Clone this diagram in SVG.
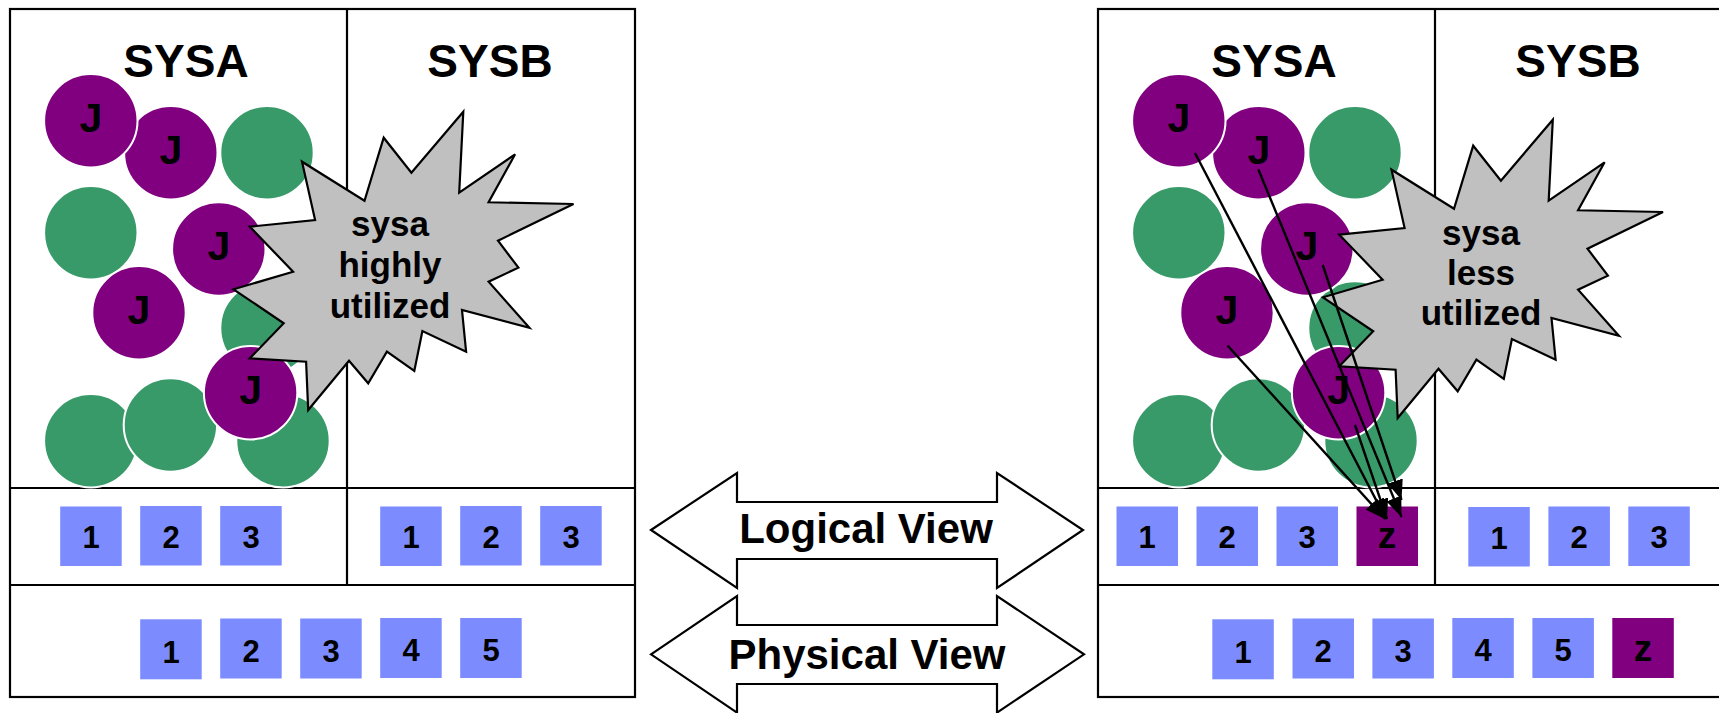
<svg xmlns="http://www.w3.org/2000/svg" width="1719" height="713" viewBox="0 0 1719 713">
<style>
.frame{fill:none;stroke:#000;stroke-width:2.2}
.ln{stroke:#000;stroke-width:2.2}
.j{fill:#800080;stroke:#fff;stroke-width:2}
.g{fill:#399a69;stroke:#fff;stroke-width:2}
.sq{fill:#7c8cff}
.zq{fill:#800080}
.star{fill:#c0c0c0;stroke:#000;stroke-width:2.2;stroke-linejoin:miter}
.arr{fill:#fff;stroke:#000;stroke-width:2.2}
text{font-family:"Liberation Sans",Arial,sans-serif;font-weight:bold;fill:#000;text-anchor:middle}
.title{font-size:46px}
.jt{font-size:41px}
.num{font-size:31px}
.zt{font-size:37px}
.bt{font-size:35px}
.vt{font-size:42px}
.conn{stroke:#000;stroke-width:2.4;fill:none;marker-end:url(#ah)}
</style>
<defs>
<marker id="ah" markerUnits="userSpaceOnUse" markerWidth="22" markerHeight="16" refX="20" refY="8" orient="auto">
<path d="M0,0 L20,8 L0,16 z" fill="#000"/>
</marker>
</defs>
<rect width="1719" height="713" fill="#fff"/>

<!-- LEFT PANEL -->
<g id="left-panel">
<rect x="10" y="9" width="625" height="688" class="frame"/>
<line x1="10" y1="488" x2="635" y2="488" class="ln"/>
<line x1="10" y1="585" x2="635" y2="585" class="ln"/>
<line x1="347" y1="9" x2="347" y2="585" class="ln"/>
<text x="186" y="77" class="title">SYSA</text>
<text x="490" y="77" class="title">SYSB</text>
</g>
<g id="left-jobs">
<circle cx="267" cy="152.7" r="46.7" class="g"/>
<circle cx="90.8" cy="232.7" r="46.7" class="g"/>
<circle cx="267" cy="328" r="46.7" class="g"/>
<circle cx="90.8" cy="440.7" r="46.7" class="g"/>
<circle cx="283" cy="440.7" r="46.7" class="g"/>
<circle cx="170.4" cy="425" r="46.7" class="g"/>
<g id="lj2"><circle cx="170.8" cy="152.7" r="46.7" class="j"/><text x="170.8" y="163.5" class="jt">J</text></g>
<g id="lj1"><circle cx="90.8" cy="120.7" r="46.7" class="j"/><text x="90.8" y="131.5" class="jt">J</text></g>
<g id="lj5"><circle cx="218.8" cy="249" r="46.7" class="j"/><text x="218.8" y="259.8" class="jt">J</text></g>
<g id="lj6"><circle cx="139" cy="312.7" r="46.7" class="j"/><text x="139" y="323.5" class="jt">J</text></g>
<g id="lj11"><circle cx="250.6" cy="392.7" r="46.7" class="j"/><text x="250.6" y="403.5" class="jt">J</text></g>
</g>
<g id="left-star">
<polygon class="star" points="463.3,111.7 459.2,192.7 515.1,154.3 488.6,202.3 573.5,204 498,240.7 518.4,267.7 488.6,281.7 529.4,327.7 462,310 466.1,351.7 422.4,331 414.3,371 386.9,351.7 368.2,383.3 349,360.7 308.2,410 306.1,361.7 249.8,358.3 283.7,323.3 233.5,289.3 293.1,271.7 249.8,226.7 315.1,220 302,161.7 364.5,200.7 383.7,137.7 411.4,172.7"/>
<text x="390" y="236" class="bt">sysa</text>
<text x="390" y="277" class="bt">highly</text>
<text x="390" y="318" class="bt">utilized</text>
</g>
<g id="left-logical">
<g><rect x="60.2" y="506.5" width="61.5" height="59.5" class="sq"/><text x="91" y="548" class="num">1</text></g>
<g><rect x="140.2" y="506" width="61.5" height="59.5" class="sq"/><text x="171" y="547.5" class="num">2</text></g>
<g><rect x="220.2" y="506" width="61.5" height="59.5" class="sq"/><text x="251" y="547.5" class="num">3</text></g>
<g><rect x="380.2" y="506.5" width="61.5" height="59.5" class="sq"/><text x="411" y="548" class="num">1</text></g>
<g><rect x="460.2" y="506" width="61.5" height="59.5" class="sq"/><text x="491" y="547.5" class="num">2</text></g>
<g><rect x="540.2" y="506" width="61.5" height="59.5" class="sq"/><text x="571" y="547.5" class="num">3</text></g>
</g>
<g id="left-physical">
<g><rect x="140.2" y="619.3" width="61.5" height="60" class="sq"/><text x="171" y="662.5" class="num">1</text></g>
<g><rect x="220.2" y="618.5" width="61.5" height="60" class="sq"/><text x="251" y="662" class="num">2</text></g>
<g><rect x="300.2" y="618.5" width="61.5" height="60" class="sq"/><text x="331" y="662" class="num">3</text></g>
<g><rect x="380.2" y="618" width="61.5" height="60" class="sq"/><text x="411" y="661" class="num">4</text></g>
<g><rect x="460.2" y="618" width="61.5" height="60" class="sq"/><text x="491" y="661" class="num">5</text></g>
</g>

<!-- MIDDLE ARROWS -->
<g id="logical-view">
<polygon class="arr" points="651,530 737,473 737,502 997,502 997,473 1083,530 997,588 997,559 737,559 737,588"/>
<text x="866" y="543" class="vt">Logical View</text>
</g>
<g id="physical-view">
<polygon class="arr" points="651,654.3 737,596 737,625 997,625 997,596 1084,654.3 997,712.6 997,684 737,684 737,712.6"/>
<text x="867" y="669" class="vt">Physical View</text>
</g>

<!-- RIGHT PANEL -->
<g id="right-panel">
<rect x="1098" y="9" width="640" height="688" class="frame"/>
<line x1="1098" y1="488" x2="1719" y2="488" class="ln"/>
<line x1="1098" y1="585" x2="1719" y2="585" class="ln"/>
<line x1="1435" y1="9" x2="1435" y2="585" class="ln"/>
<text x="1274" y="77" class="title">SYSA</text>
<text x="1578" y="77" class="title">SYSB</text>
</g>
<g id="right-jobs" transform="translate(1088,0)">
<circle cx="267" cy="152.7" r="46.7" class="g"/>
<circle cx="90.8" cy="232.7" r="46.7" class="g"/>
<circle cx="267" cy="328" r="46.7" class="g"/>
<circle cx="90.8" cy="440.7" r="46.7" class="g"/>
<circle cx="283" cy="440.7" r="46.7" class="g"/>
<circle cx="170.4" cy="425" r="46.7" class="g"/>
<g id="rj2"><circle cx="170.8" cy="152.7" r="46.7" class="j"/><text x="170.8" y="163.5" class="jt">J</text></g>
<g id="rj1"><circle cx="90.8" cy="120.7" r="46.7" class="j"/><text x="90.8" y="131.5" class="jt">J</text></g>
<g id="rj5"><circle cx="218.8" cy="249" r="46.7" class="j"/><text x="218.8" y="259.8" class="jt">J</text></g>
<g id="rj6"><circle cx="139" cy="312.7" r="46.7" class="j"/><text x="139" y="323.5" class="jt">J</text></g>
<g id="rj11"><circle cx="250.6" cy="392.7" r="46.7" class="j"/><text x="250.6" y="403.5" class="jt">J</text></g>
</g>
<g id="right-star">
<polygon class="star" transform="translate(1089.5,8)" points="463.3,111.7 459.2,192.7 515.1,154.3 488.6,202.3 573.5,204 498,240.7 518.4,267.7 488.6,281.7 529.4,327.7 462,310 466.1,351.7 422.4,331 414.3,371 386.9,351.7 368.2,383.3 349,360.7 308.2,410 306.1,361.7 249.8,358.3 283.7,323.3 233.5,289.3 293.1,271.7 249.8,226.7 315.1,220 302,161.7 364.5,200.7 383.7,137.7 411.4,172.7"/>
<text x="1481" y="245" class="bt">sysa</text>
<text x="1481" y="285" class="bt">less</text>
<text x="1481" y="325" class="bt">utilized</text>
</g>
<g id="right-logical">
<g><rect x="1116.5" y="506.5" width="61.5" height="59.5" class="sq"/><text x="1147" y="548" class="num">1</text></g>
<g><rect x="1196.5" y="506.5" width="61.5" height="59.5" class="sq"/><text x="1227" y="548" class="num">2</text></g>
<g><rect x="1276.5" y="506.5" width="61.5" height="59.5" class="sq"/><text x="1307" y="548" class="num">3</text></g>
<g id="rz"><rect x="1356.5" y="506.5" width="61.5" height="59.5" class="zq"/><text x="1387" y="548" class="zt">z</text></g>
<g><rect x="1468.3" y="507" width="61.5" height="59.5" class="sq"/><text x="1499" y="548.5" class="num">1</text></g>
<g><rect x="1548.4" y="506.5" width="61.5" height="59.5" class="sq"/><text x="1579" y="548" class="num">2</text></g>
<g><rect x="1628.3" y="506.5" width="61.5" height="59.5" class="sq"/><text x="1659" y="548" class="num">3</text></g>
</g>
<g id="right-physical">
<g><rect x="1212.3" y="619.3" width="61.5" height="60" class="sq"/><text x="1243" y="662.5" class="num">1</text></g>
<g><rect x="1292.5" y="618.5" width="61.5" height="60" class="sq"/><text x="1323" y="662" class="num">2</text></g>
<g><rect x="1372.4" y="618.5" width="61.5" height="60" class="sq"/><text x="1403" y="662" class="num">3</text></g>
<g><rect x="1452.3" y="618" width="61.5" height="60" class="sq"/><text x="1483" y="661" class="num">4</text></g>
<g><rect x="1532.4" y="618" width="61.5" height="60" class="sq"/><text x="1563" y="661" class="num">5</text></g>
<g><rect x="1612.3" y="618" width="61.5" height="60" class="zq"/><text x="1643" y="661" class="zt">z</text></g>
</g>

<!-- CONNECTORS -->
<g id="connectors">
<line class="conn" x1="1195" y1="153" x2="1386" y2="519"/>
<line class="conn" x1="1227.5" y1="345.5" x2="1385" y2="519"/>
<line class="conn" x1="1355" y1="425" x2="1387" y2="519"/>
<line class="conn" x1="1258.3" y1="169.3" x2="1401.5" y2="517"/>
<line class="conn" x1="1322.7" y1="265" x2="1401.5" y2="500"/>
</g>
</svg>
